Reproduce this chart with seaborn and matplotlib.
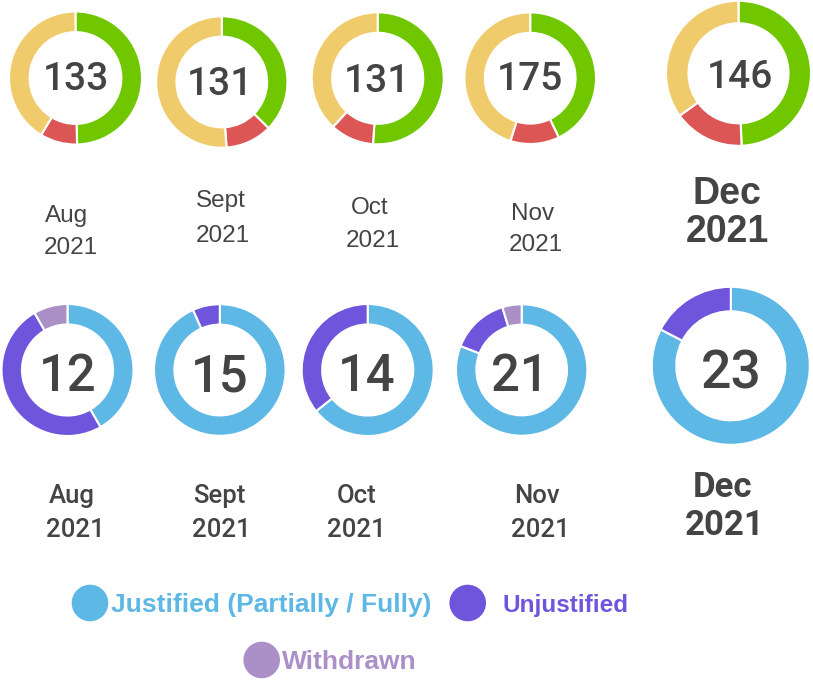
import matplotlib
matplotlib.use("Agg")
import matplotlib.pyplot as plt
from matplotlib.patches import Circle
import seaborn as sns

# data
months = ["Aug", "Sept", "Oct", "Nov", "Dec"]
year = "2021"

# top row, clockwise from 12 o'clock: green, red, yellow
top_green = [66, 49, 67, 75, 72]
top_red = [12, 15, 14, 21, 23]
top_yellow = [55, 67, 50, 79, 51]

# bottom row, clockwise from 12 o'clock
justified = [5, 14, 9, 17, 19]
unjustified = [6, 1, 5, 3, 4]
withdrawn = [1, 0, 0, 1, 0]

legend_labels = ["Justified (Partially / Fully)", "Unjustified", "Withdrawn"]

top_colors = ["#70c700", "#dd5656", "#efcb6b"]
bottom_colors = ["#5eb8e5", "#6e55dc", "#ab90c8"]
text_color = "#444444"

# layout in pixels (y measured from the top)
W, H = 813, 685
top_centers = [(75.5, 78), (221.8, 82), (377.7, 78.3), (530.2, 78.2), (738.5, 73.3)]
top_radius = [66.5, 65.7, 66, 65.8, 72.5]
bot_centers = [(67.5, 370), (219.8, 370), (367.7, 370), (521.7, 370), (730.8, 365.8)]
bot_radius = [66, 65.8, 66, 65.7, 79]
top_num_pos = [(76, 90), (220, 95), (377, 92), (529.5, 90), (739.5, 88)]
bot_num_pos = [(68, 391), (220, 391), (367, 391), (520, 391), (731, 388)]
# (x month, baseline month, x year, baseline year)
top_lbl_pos = [(66.5, 222, 71, 254), (221, 207.3, 223.3, 241.5), (370, 213.5, 372.5, 247),
               (532.5, 219.5, 535.5, 250.5), (726.5, 204, 727.5, 242)]
bot_lbl_pos = [(71.7, 503.3, 75, 536.7), (219, 503.3, 221.7, 536.7), (356.7, 503.3, 356.7, 536.7),
               (536.7, 503, 540, 537), (722.5, 497, 725, 535)]

sns.set_theme(style="white")
plt.rcParams["font.family"] = ["Roboto", "DejaVu Sans"]

fig = plt.figure(figsize=(W / 100, H / 100), dpi=100)
ax = fig.add_axes([0, 0, 1, 1])


def donut(values, colors, center, radius, width):
    vals = [v for v in values if v > 0]
    cols = [c for v, c in zip(values, colors) if v > 0]
    ax.pie(vals, colors=cols, startangle=90, counterclock=False,
           radius=radius, center=(center[0], H - center[1]),
           wedgeprops=dict(width=width, edgecolor="white", linewidth=1.5))


for i in range(len(months)):
    vals = [top_green[i], top_red[i], top_yellow[i]]
    donut(vals, top_colors, top_centers[i], top_radius[i], top_radius[i] * 0.31)
    x, y = top_num_pos[i]
    ax.text(x, H - y, str(sum(vals)), ha="center", va="baseline",
            fontsize=28, fontweight="medium", color=text_color)

    vals = [justified[i], unjustified[i], withdrawn[i]]
    donut(vals, bottom_colors, bot_centers[i], bot_radius[i], bot_radius[i] * 0.31)
    x, y = bot_num_pos[i]
    ax.text(x, H - y, str(sum(vals)), ha="center", va="baseline",
            fontsize=38.5 if i == 4 else 36.5, fontweight="medium", color=text_color)

    big = i == len(months) - 1
    xm, ym, xy, yy = top_lbl_pos[i]
    kw = dict(ha="center", va="baseline", color=text_color,
              family=["Liberation Sans", "DejaVu Sans"],
              fontsize=27 if big else 17.5, fontweight="bold" if big else "normal")
    ax.text(xm, H - ym, months[i], **kw)
    ax.text(xy, H - yy, year, **kw)

    xm, ym, xy, yy = bot_lbl_pos[i]
    kw = dict(ha="center", va="baseline", color=text_color,
              fontsize=25 if big else 18.5, fontweight="bold" if big else "medium")
    ax.text(xm, H - ym, months[i], **kw)
    ax.text(xy, H - yy, year, **kw)

# legend: circle centre, text start x, text baseline y, font size
leg_pos = [(90, 603, 111, 612, 19), (467.7, 603, 502, 612, 17.5), (261.7, 660, 282, 669, 19)]
for lbl, col, (cx, cy, tx, ty, fs) in zip(legend_labels, bottom_colors, leg_pos):
    ax.add_patch(Circle((cx, H - cy), 18.3, color=col, lw=0))
    ax.text(tx, H - ty, lbl, ha="left", va="baseline", color=col, fontsize=fs,
            fontweight="bold", family=["Liberation Sans", "DejaVu Sans"])

ax.set_xlim(0, W)
ax.set_ylim(0, H)
ax.set_aspect("equal")
ax.axis("off")
fig.savefig("out.png", dpi=100, facecolor="white")
